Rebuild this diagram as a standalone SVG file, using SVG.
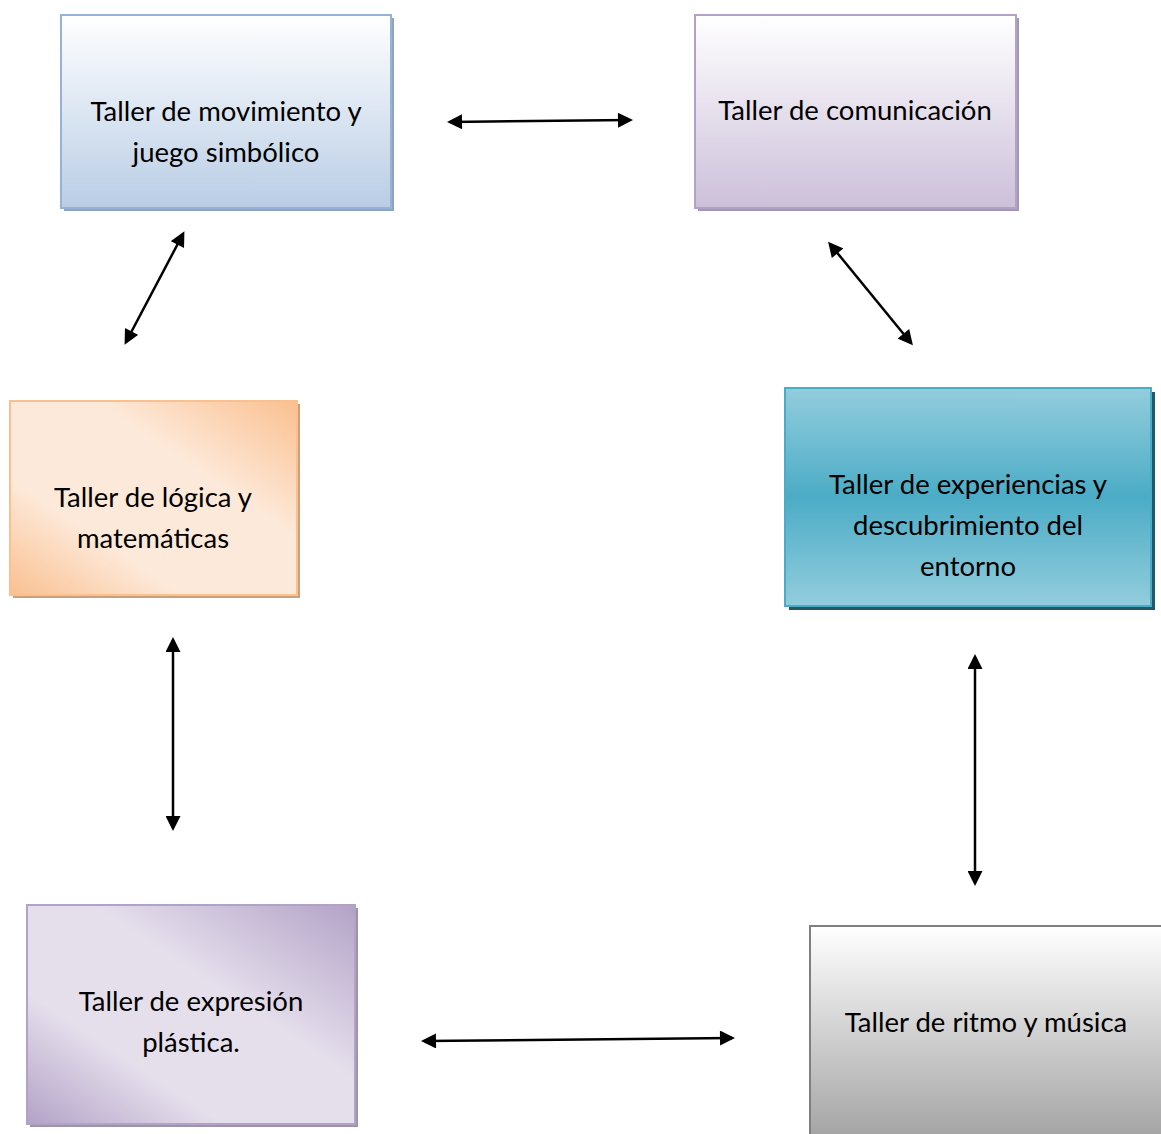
<svg xmlns="http://www.w3.org/2000/svg" width="1161" height="1134" viewBox="0 0 1161 1134">
<style>
text{font-family:Lato,"Liberation Sans",sans-serif;font-size:27.5px;fill:#000;text-anchor:middle}
.con{stroke:#000;stroke-width:2.5;fill:none;marker-start:url(#ah);marker-end:url(#ah)}
</style>
<defs>
<marker id="ah" viewBox="0 0 10 10" refX="8" refY="5" markerWidth="6.5" markerHeight="6" orient="auto-start-reverse" markerUnits="strokeWidth">
<path d="M0,0 L10,5 L0,10 Z" fill="#000"/>
</marker>
<linearGradient id="g1" x1="0" y1="0" x2="0" y2="1"><stop offset="0" stop-color="#ffffff"/><stop offset="1" stop-color="#b9cde5"/></linearGradient>
<linearGradient id="g2" x1="0" y1="0" x2="0" y2="1"><stop offset="0" stop-color="#ffffff"/><stop offset="1" stop-color="#ccc0da"/></linearGradient>
<linearGradient id="g3" x1="0" y1="1" x2="1" y2="0"><stop offset="0" stop-color="#fac090"/><stop offset="0.3" stop-color="#fde9d9"/><stop offset="0.65" stop-color="#fde9d9"/><stop offset="1" stop-color="#fac090"/></linearGradient>
<linearGradient id="g4" x1="0" y1="0" x2="0" y2="1"><stop offset="0" stop-color="#93cddd"/><stop offset="0.5" stop-color="#4bacc6"/><stop offset="1" stop-color="#93cddd"/></linearGradient>
<linearGradient id="g5" x1="0" y1="1" x2="1" y2="0"><stop offset="0" stop-color="#b3a2c7"/><stop offset="0.3" stop-color="#e5dfec"/><stop offset="0.6" stop-color="#e5dfec"/><stop offset="1" stop-color="#b3a2c7"/></linearGradient>
<linearGradient id="g6" x1="0" y1="0" x2="0" y2="1"><stop offset="0" stop-color="#ffffff"/><stop offset="1" stop-color="#a0a0a0"/></linearGradient>
</defs>
<rect width="1161" height="1134" fill="#fff"/>
<g id="n1">
<rect x="64" y="18" width="330" height="193" fill="#8ea4c0"/>
<rect x="61" y="15" width="330" height="193" fill="url(#g1)" stroke="#95b3d7" stroke-width="2"/>
<text x="226" y="121">Taller de movimiento y</text>
<text x="226" y="162">juego simbólico</text>
</g>
<g id="n2">
<rect x="698" y="18" width="321" height="193" fill="#a497b3"/>
<rect x="695" y="15" width="321" height="193" fill="url(#g2)" stroke="#b3a2c7" stroke-width="2"/>
<text x="855" y="120">Taller de comunicación</text>
</g>
<g id="n3">
<rect x="13" y="404" width="287" height="194" fill="#c9a07a"/>
<rect x="10" y="401" width="287" height="194" fill="url(#g3)" stroke="#fac090" stroke-width="2"/>
<text x="153" y="507">Taller de lógica y</text>
<text x="153" y="548">matemáticas</text>
</g>
<g id="n4">
<rect x="789" y="392" width="366" height="218" fill="#215968"/>
<rect x="785" y="388" width="366" height="218" fill="url(#g4)" stroke="#4bacc6" stroke-width="2"/>
<text x="968" y="494">Taller de experiencias y</text>
<text x="968" y="535">descubrimiento del</text>
<text x="968" y="576">entorno</text>
</g>
<g id="n5">
<rect x="30" y="908" width="328" height="219" fill="#9e94a8"/>
<rect x="27" y="905" width="328" height="219" fill="url(#g5)" stroke="#b3a2c7" stroke-width="2"/>
<text x="191" y="1011">Taller de expresión</text>
<text x="191" y="1052">plástica.</text>
</g>
<g id="n6">
<rect x="810" y="926" width="360" height="220" fill="url(#g6)" stroke="#7f7f7f" stroke-width="2"/>
<text x="986" y="1032">Taller de ritmo y música</text>
</g>
<g id="connectors">
<line class="con" x1="450" y1="122" x2="630" y2="120"/>
<line class="con" x1="183" y1="234" x2="126" y2="342"/>
<line class="con" x1="830" y1="244" x2="911" y2="343"/>
<line class="con" x1="173" y1="640" x2="173" y2="828"/>
<line class="con" x1="975" y1="657" x2="975" y2="883"/>
<line class="con" x1="424" y1="1041" x2="732" y2="1038"/>
</g>
</svg>
